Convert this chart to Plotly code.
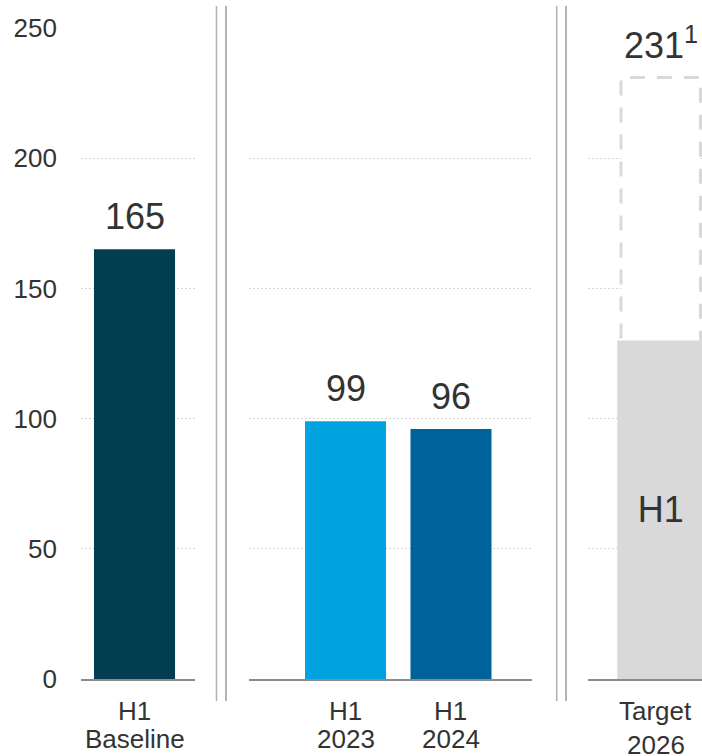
import plotly.graph_objects as go

# ---------------- data ----------------
categories = ["H1 Baseline", "H1 2023", "H1 2024", "Target 2026"]
label_line1 = ["H1", "H1", "H1", "Target"]
label_line2 = ["Baseline", "2023", "2024", "2026"]
h1_values = [165, 99, 96, 130]
value_labels = ["165", "99", "96", None]
target_total = 231
target_footnote = "1"
inside_label = "H1"
y_ticks = [0, 50, 100, 150, 200, 250]

# ---------------- style ----------------
W, H = 702, 756
panel_of = [0, 1, 1, 2]
bar_colors = ["#023e50", "#00a2df", "#00629b", "#d9d9d9"]
TEXT = "#333333"
FONT = "Liberation Sans, Arial, sans-serif"
axes = [("x", "y"), ("x2", "y2"), ("x3", "y3")]
x_domains_px = [(81, 195), (249, 532), (588, 702)]
x_ranges = [[-0.507, 0.573], [-0.915, 1.768], [-0.690, 0.391]]
bar_width = [0.768, 0.768, 0.768, 0.825]
outline_half = 0.377
label_gap2 = [28, 28, 28, 34]
M_TOP = 28
ZERO_Y = 679
M_BOT = H - ZERO_Y

fig = go.Figure()
for i, cat in enumerate(categories):
    xa, ya = axes[panel_of[i]]
    is_target = i == len(categories) - 1
    fig.add_trace(go.Bar(
        x=[cat], y=[h1_values[i]], xaxis=xa, yaxis=ya,
        width=bar_width[i], marker=dict(color=bar_colors[i], line=dict(width=0)),
        text=[inside_label] if is_target else None,
        textposition="inside" if is_target else "none",
        insidetextanchor="middle",
        textfont=dict(size=36, color=TEXT, family=FONT),
        textangle=0,
        showlegend=False, hoverinfo="skip",
    ))

layout = dict(
    width=W, height=H,
    margin=dict(l=0, r=0, t=M_TOP, b=M_BOT),
    paper_bgcolor="white", plot_bgcolor="white",
    bargap=0.232,
    showlegend=False,
    font=dict(family=FONT, color=TEXT, size=26),
)
for p, (xa, ya) in enumerate(axes):
    xk = "xaxis" if p == 0 else f"xaxis{p+1}"
    yk = "yaxis" if p == 0 else f"yaxis{p+1}"
    d0, d1 = x_domains_px[p]
    layout[xk] = dict(
        domain=[d0 / W, min(1, d1 / W)], anchor=ya, type="category",
        range=x_ranges[p], showticklabels=False, ticks="",
        showgrid=False, zeroline=False,
        showline=True, linecolor="#8c8c8c", linewidth=1.5,
        layer="below traces",
        fixedrange=True, automargin=False,
    )
    layout[yk] = dict(
        domain=[0, 1], anchor=xa, range=[0, 250],
        tickvals=y_ticks, showticklabels=(p == 0),
        ticks="", ticklabelstandoff=23,
        tickfont=dict(size=26, color=TEXT, family=FONT),
        showgrid=True, gridcolor="#d4d4d4", gridwidth=1, griddash="2px,2px",
        zeroline=False, showline=False, automargin=False, fixedrange=True,
    )
    if p > 0:
        layout[yk]["matches"] = "y"
fig.update_layout(**layout)

annotations = []
# value labels above bars
for i, cat in enumerate(categories):
    xa, ya = axes[panel_of[i]]
    if value_labels[i]:
        annotations.append(dict(
            x=cat, y=h1_values[i], xref=xa, yref=ya, text=value_labels[i],
            showarrow=False, yanchor="bottom", yshift=10,
            font=dict(size=36, color=TEXT, family=FONT),
        ))
# target total label
t_xa, t_ya = axes[panel_of[-1]]
annotations.append(dict(
    x=categories[-1], y=target_total, xref=t_xa, yref=t_ya,
    text=f"{target_total}<sup>{target_footnote}</sup>",
    showarrow=False, yanchor="bottom", yshift=9,
    font=dict(size=36, color=TEXT, family=FONT),
))
# category labels (two lines)
for i, cat in enumerate(categories):
    xa, ya = axes[panel_of[i]]
    xs = -5 if i == len(categories) - 1 else 0
    annotations.append(dict(
        x=cat, y=0, xref=xa, yref="paper", text=label_line1[i],
        showarrow=False, yanchor="top", yshift=-15, xshift=xs,
        font=dict(size=26, color=TEXT, family=FONT),
    ))
    annotations.append(dict(
        x=cat, y=0, xref=xa, yref="paper", text=label_line2[i],
        showarrow=False, yanchor="top", yshift=-15 - label_gap2[i], xshift=xs,
        font=dict(size=26, color=TEXT, family=FONT),
    ))
fig.update_layout(annotations=annotations)

shapes = []
# dashed outline for the full-year target (its lower part hidden behind the H1 bar)
shapes.append(dict(
    type="rect", xref=t_xa, yref=t_ya,
    x0=-outline_half, x1=outline_half, y0=h1_values[-1] * 0.9, y1=target_total,
    line=dict(color="#d9d9d9", width=3, dash="15px,12px"),
    fillcolor="white", layer="between",
))
# double separators between panels
plot_h = H - M_TOP - M_BOT
y_top = (ZERO_Y - 6) / plot_h
y_bot = (ZERO_Y - 701) / plot_h
for px, col in [(216.5, "#b4b4b4"), (226, "#a0a0a0"), (556.7, "#b4b4b4"), (566, "#a0a0a0")]:
    shapes.append(dict(
        type="line", xref="paper", yref="paper",
        x0=px / W, x1=px / W, y0=y_bot, y1=y_top,
        line=dict(color=col, width=1.6), layer="above",
    ))
fig.update_layout(shapes=shapes)

fig.write_html(
    "out.html",
    config={"displayModeBar": False},
    post_script="document.body.style.margin='0';document.body.style.overflow='hidden';",
)
